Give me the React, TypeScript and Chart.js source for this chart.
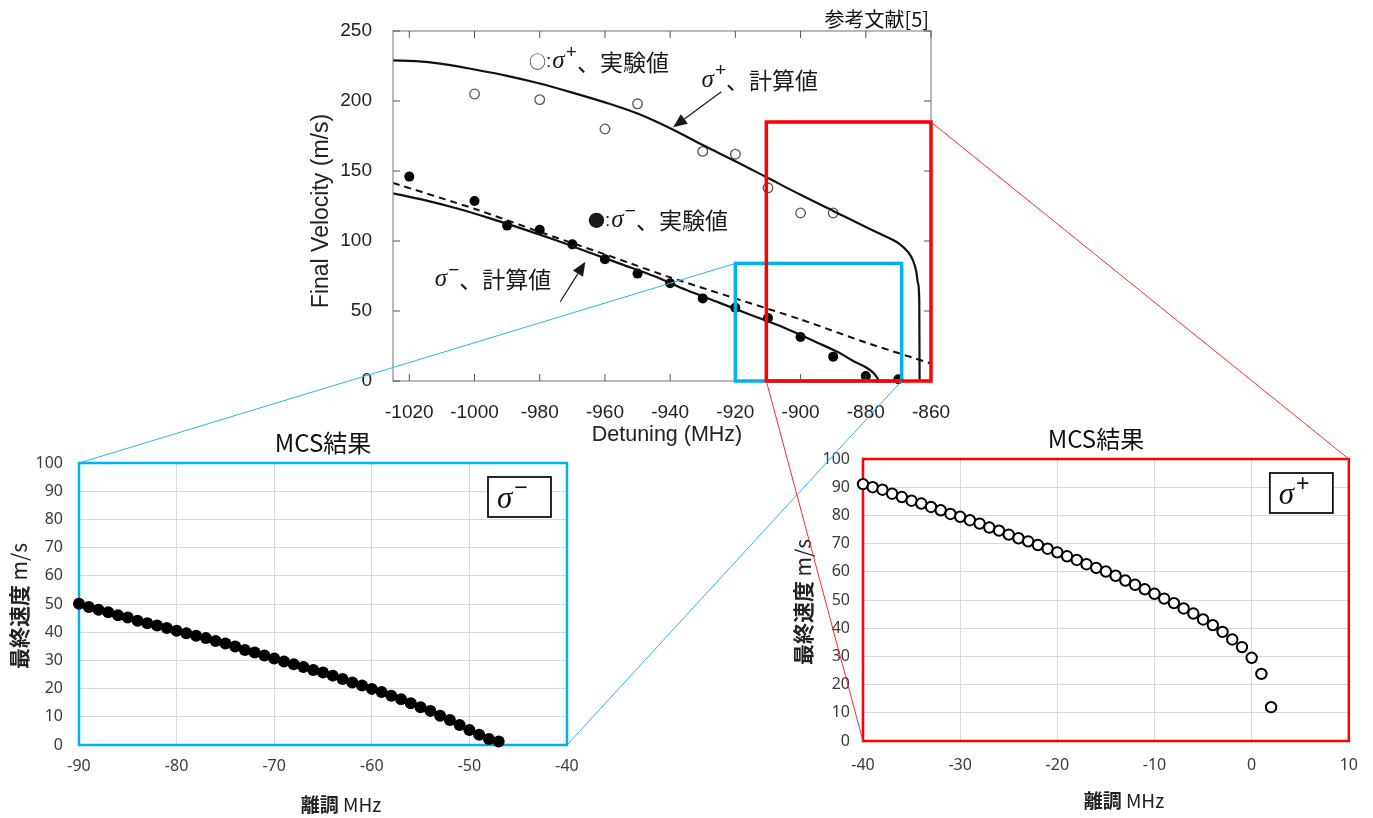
import React, { useEffect, useRef } from 'react';
import { Chart, registerables } from 'chart.js';

Chart.register(...registerables);

const PAGE_W = 1373;
const PAGE_H = 818;

// ---------------- Reference chart (top) ----------------
const refXTicks = [-1020, -1000, -980, -960, -940, -920, -900, -880, -860];
const refYTicks = [0, 50, 100, 150, 200, 250];

const plusCalcDetuning = [-1025, -1018, -1010, -1000, -990, -980, -970, -960, -950, -940, -930, -920, -910, -900, -890, -880, -875, -870, -867, -865.5, -864.5, -864, -863.6, -863.5];
const plusCalcVelocity = [229, 228.5, 226.5, 222.5, 218, 212.5, 206, 199, 191, 180.5, 168.5, 157, 145, 133, 121.5, 110, 104.5, 98.5, 92, 86, 78, 70, 58, 0];

const minusCalcDetuning = [-1025, -1015, -1005, -995, -985, -975, -965, -955, -945, -935, -925, -915, -905, -895, -888, -884, -880, -878, -877, -876.3, -876];
const minusCalcVelocity = [134, 129, 123, 116, 108.5, 100.5, 92, 83.5, 75, 65, 56, 47, 38, 27.5, 20, 14.5, 9.8, 6.5, 4, 1.5, 0];

const minusDashDetuning = [-1025, -1000, -980, -960, -940, -920, -900, -880, -860];
const minusDashVelocity = [141.5, 123, 106.5, 90.5, 74, 59, 44, 27.5, 12.5];

const plusExpDetuning = [-1000, -980, -960, -950, -930, -920, -910, -900, -890];
const plusExpVelocity = [205, 201, 180, 198, 164, 162, 138, 120, 120];

const minusExpDetuning = [-1020, -1000, -990, -980, -970, -960, -950, -940, -930, -920, -910, -900, -890, -880, -870];
const minusExpVelocity = [146, 128.6, 111, 108, 97.6, 87, 76.7, 69.8, 59, 52.4, 45, 31.4, 17.4, 3.6, 1.2];

// zoom windows marked on the reference chart (data units)
const blueZoom = { x0: -920, x1: -869, y0: 0, y1: 84 };
const redZoom = { x0: -910.5, x1: -860, y0: 0, y1: 185 };

// ---------------- MCS results (bottom) ----------------
const mcsYTicks = [0, 10, 20, 30, 40, 50, 60, 70, 80, 90, 100];
const mcsMinusXTicks = [-90, -80, -70, -60, -50, -40];
const mcsPlusXTicks = [-40, -30, -20, -10, 0, 10];

const mcsMinusDetuning = [-90, -89, -88, -87, -86, -85, -84, -83, -82, -81, -80, -79, -78, -77, -76, -75, -74, -73, -72, -71, -70, -69, -68, -67, -66, -65, -64, -63, -62, -61, -60, -59, -58, -57, -56, -55, -54, -53, -52, -51, -50, -49, -48, -47];
const mcsMinusVelocity = [50.1, 48.9, 48.0, 47.1, 46.0, 45.2, 44.1, 43.2, 42.4, 41.5, 40.5, 39.6, 38.7, 37.9, 36.9, 36.0, 34.9, 33.7, 32.8, 31.7, 30.7, 29.6, 28.6, 27.7, 26.6, 25.7, 24.6, 23.4, 22.2, 21.1, 19.9, 18.8, 17.5, 16.2, 14.8, 13.4, 12.1, 10.4, 8.9, 7.1, 5.3, 3.6, 2.1, 1.2];

const mcsPlusDetuning = [-40, -39, -38, -37, -36, -35, -34, -33, -32, -31, -30, -29, -28, -27, -26, -25, -24, -23, -22, -21, -20, -19, -18, -17, -16, -15, -14, -13, -12, -11, -10, -9, -8, -7, -6, -5, -4, -3, -2, -1, 0, 1, 2];
const mcsPlusVelocity = [91.1, 90.0, 89.1, 87.7, 86.5, 85.2, 84.2, 83.0, 81.8, 80.5, 79.5, 78.3, 77.1, 75.7, 74.6, 73.2, 71.9, 70.8, 69.5, 68.2, 66.9, 65.5, 64.2, 62.7, 61.4, 60.1, 58.6, 56.9, 55.4, 53.8, 52.2, 50.5, 48.9, 47.0, 45.2, 43.1, 41.1, 38.7, 36.0, 33.3, 29.5, 23.8, 12.0];

// ---------------- layout ----------------
const TOP = { left: 300, top: 0, w: 670, h: 450, yw: 93, pr: 39, pt: 31, xh: 69 };
const BL = { left: 0, top: 420, w: 600, h: 398, yw: 79, pr: 33, pt: 43, xh: 73 };
const BR = { left: 780, top: 420, w: 593, h: 398, yw: 83, pr: 22, pt: 39, xh: 77 };

const JP = '"Noto Sans CJK JP"';
const SANS = '"Liberation Sans"';
const SERIF = '"Liberation Serif"';
const BLUE = '#00b0f0';
const RED = '#ff0000';

const zip = (xs: number[], ys: number[]) => xs.map((x, i) => ({ x, y: ys[i] }));
const plain = (v: any) => String(v);

type Run = { t: string; f: string; dy?: number };

function drawRuns(ctx: CanvasRenderingContext2D, runs: Run[], x: number, y: number, align: 'left' | 'center' | 'right' = 'left') {
  ctx.save();
  ctx.textBaseline = 'middle';
  ctx.textAlign = 'left';
  let total = 0;
  for (const r of runs) {
    ctx.font = r.f;
    total += ctx.measureText(r.t).width;
  }
  let cx = align === 'center' ? x - total / 2 : align === 'right' ? x - total : x;
  for (const r of runs) {
    ctx.font = r.f;
    ctx.fillText(r.t, cx, y + (r.dy || 0));
    cx += ctx.measureText(r.t).width;
  }
  ctx.restore();
}

function drawRotated(ctx: CanvasRenderingContext2D, runs: Run[], cx: number, cy: number) {
  ctx.save();
  ctx.translate(cx, cy);
  ctx.rotate(-Math.PI / 2);
  drawRuns(ctx, runs, 0, 0, 'center');
  ctx.restore();
}

function drawArrow(ctx: CanvasRenderingContext2D, x1: number, y1: number, x2: number, y2: number, head: number, half: number) {
  const ang = Math.atan2(y2 - y1, x2 - x1);
  const bx = x2 - head * Math.cos(ang);
  const by = y2 - head * Math.sin(ang);
  ctx.beginPath();
  ctx.moveTo(x1, y1);
  ctx.lineTo(bx, by);
  ctx.stroke();
  ctx.beginPath();
  ctx.moveTo(x2, y2);
  ctx.lineTo(bx + half * Math.sin(ang), by - half * Math.cos(ang));
  ctx.lineTo(bx - half * Math.sin(ang), by + half * Math.cos(ang));
  ctx.closePath();
  ctx.fill();
}

const gap = (w: number): Run => ({ t: ' ', f: `${w}px ${SANS}` });

const topDecor = {
  id: 'topDecor',
  afterDatasetsDraw(chart: any) {
    const { ctx, chartArea: a, scales } = chart;
    const X = (v: number) => scales.x.getPixelForValue(v);
    const Y = (v: number) => scales.y.getPixelForValue(v);
    ctx.save();
    // frame
    ctx.strokeStyle = '#8c8c8c';
    ctx.lineWidth = 1.2;
    ctx.strokeRect(a.left, a.top, a.right - a.left, a.bottom - a.top);
    // inner ticks
    ctx.strokeStyle = '#555';
    ctx.lineWidth = 1;
    ctx.beginPath();
    for (const v of refXTicks) {
      const p = X(v);
      ctx.moveTo(p, a.bottom);
      ctx.lineTo(p, a.bottom - 7);
      ctx.moveTo(p, a.top);
      ctx.lineTo(p, a.top + 7);
    }
    for (const v of refYTicks) {
      const p = Y(v);
      ctx.moveTo(a.left, p);
      ctx.lineTo(a.left + 7, p);
      ctx.moveTo(a.right, p);
      ctx.lineTo(a.right - 7, p);
    }
    ctx.stroke();

    // annotations
    ctx.fillStyle = '#1a1a1a';
    ctx.strokeStyle = '#1a1a1a';
    drawRuns(ctx, [
      { t: '○', f: `17px ${JP}` },
      { t: ':', f: `19px ${SANS}` },
      gap(4),
      { t: 'σ', f: `italic 25px ${SERIF}` },
      gap(4),
      { t: '+', f: `19px ${SANS}`, dy: -9 },
      { t: '、実験値', f: `23px ${JP}` },
    ], X(-983.3), Y(228));
    drawRuns(ctx, [
      { t: 'σ', f: `italic 25px ${SERIF}` },
      gap(4),
      { t: '+', f: `19px ${SANS}`, dy: -9 },
      { t: '、計算値', f: `23px ${JP}` },
    ], X(-930.4), Y(215));
    drawRuns(ctx, [
      { t: '●', f: `17px ${JP}` },
      { t: ':', f: `19px ${SANS}` },
      gap(4),
      { t: 'σ', f: `italic 25px ${SERIF}` },
      gap(4),
      { t: '−', f: `19px ${SANS}`, dy: -9 },
      { t: '、実験値', f: `23px ${JP}` },
    ], X(-965.2), Y(114.6));
    drawRuns(ctx, [
      { t: 'σ', f: `italic 25px ${SERIF}` },
      gap(4),
      { t: '−', f: `19px ${SANS}`, dy: -9 },
      { t: '、計算値', f: `23px ${JP}` },
    ], X(-1012.2), Y(72.5));

    ctx.lineWidth = 1.2;
    drawArrow(ctx, X(-924.3), Y(206.6), X(-939.1), Y(181.2), 14, 6);
    drawArrow(ctx, X(-973.7), Y(56.6), X(-966), Y(85.2), 14, 6);

    // zoom windows
    ctx.lineWidth = 3.5;
    ctx.strokeStyle = BLUE;
    ctx.strokeRect(X(blueZoom.x0), Y(blueZoom.y1), X(blueZoom.x1) - X(blueZoom.x0), Y(blueZoom.y0) - Y(blueZoom.y1));
    ctx.strokeStyle = RED;
    ctx.strokeRect(X(redZoom.x0), Y(redZoom.y1), X(redZoom.x1) - X(redZoom.x0), Y(redZoom.y0) - Y(redZoom.y1));

    // titles
    ctx.fillStyle = '#222';
    drawRotated(ctx, [{ t: 'Final Velocity (m/s)', f: `23px ${SANS}` }], a.left - 71, (a.top + a.bottom) / 2 + 5);
    drawRuns(ctx, [{ t: 'Detuning (MHz)', f: `21.5px ${SANS}` }], (a.left + a.right) / 2 + 5, a.bottom + 54, 'center');
    ctx.fillStyle = '#111';
    drawRuns(ctx, [{ t: '参考文献[5]', f: `20px ${JP}` }], a.right - 2, a.top - 12, 'right');
    ctx.restore();
  },
};

function topConfig(): any {
  const line = (xs: number[], ys: number[], extra: any = {}) => ({
    data: zip(xs, ys),
    borderColor: '#111',
    borderWidth: 2.2,
    pointRadius: 0,
    fill: false,
    showLine: true,
    cubicInterpolationMode: 'monotone',
    ...extra,
  });
  return {
    type: 'line',
    data: {
      datasets: [
        line(plusCalcDetuning, plusCalcVelocity),
        line(minusCalcDetuning, minusCalcVelocity),
        line(minusDashDetuning, minusDashVelocity, { borderDash: [7, 5], borderWidth: 2, cubicInterpolationMode: 'default', tension: 0.2 }),
        {
          data: zip(plusExpDetuning, plusExpVelocity),
          showLine: false,
          pointRadius: 4.8,
          pointBorderWidth: 1.3,
          pointBorderColor: '#555',
          pointBackgroundColor: '#fff',
        },
        {
          data: zip(minusExpDetuning, minusExpVelocity),
          showLine: false,
          pointRadius: 5,
          pointBorderWidth: 0,
          pointBorderColor: '#000',
          pointBackgroundColor: '#000',
          clip: false,
        },
      ],
    },
    options: {
      animation: false,
      responsive: false,
      layout: { padding: { left: 0, right: TOP.pr, top: TOP.pt, bottom: 0 } },
      plugins: { legend: { display: false }, tooltip: { enabled: false }, title: { display: false } },
      scales: {
        x: {
          type: 'linear',
          min: -1025,
          max: -860,
          afterBuildTicks: (s: any) => { s.ticks = refXTicks.map((v) => ({ value: v })); },
          afterFit: (s: any) => { s.height = TOP.xh; },
          grid: { display: false },
          border: { display: false },
          ticks: { padding: 12, autoSkip: false, maxRotation: 0, color: '#222', callback: plain, font: { family: 'Liberation Sans', size: 19 } },
        },
        y: {
          type: 'linear',
          min: 0,
          max: 250,
          afterBuildTicks: (s: any) => { s.ticks = refYTicks.map((v) => ({ value: v })); },
          afterFit: (s: any) => { s.width = TOP.yw; },
          grid: { display: false },
          border: { display: false },
          ticks: { padding: 13, color: '#222', callback: plain, font: { family: 'Liberation Sans', size: 19 } },
        },
      },
    },
    plugins: [topDecor],
  };
}

function mcsConfig(opts: {
  detuning: number[];
  velocity: number[];
  xTicks: number[];
  frame: string;
  sign: string;
  filled: boolean;
  lay: typeof BL;
  yPad: number;
  xPad: number;
  titleDx: number;
}): any {
  const deco = {
    id: 'mcsDeco',
    beforeDatasetsDraw(chart: any) {
      const { ctx, chartArea: a } = chart;
      ctx.save();
      ctx.strokeStyle = opts.frame;
      ctx.lineWidth = 2.5;
      ctx.strokeRect(a.left, a.top, a.right - a.left, a.bottom - a.top);
      ctx.restore();
    },
    afterDraw(chart: any) {
      const { ctx, chartArea: a } = chart;
      ctx.save();
      ctx.fillStyle = '#111';
      drawRuns(ctx, [{ t: 'MCS結果', f: `24px ${JP}` }], (a.left + a.right) / 2 + opts.titleDx, a.top - 20, 'center');
      ctx.fillStyle = '#222';
      drawRuns(ctx, [
        { t: '離調', f: `bold 19px ${JP}` },
        { t: ' MHz', f: `19px ${JP}` },
      ], (a.left + a.right) / 2 + 18, a.bottom + 60, 'center');
      drawRotated(ctx, [
        { t: '最終速度', f: `bold 21px ${JP}` },
        { t: ' m/s', f: `21px ${JP}` },
      ], a.left - 60, (a.top + a.bottom) / 2 + 2);
      // legend box
      const bw = 63, bh = 40;
      const bx = a.right - 16 - bw, by = a.top + 14;
      ctx.fillStyle = '#fff';
      ctx.fillRect(bx, by, bw, bh);
      ctx.strokeStyle = '#111';
      ctx.lineWidth = 1.8;
      ctx.strokeRect(bx, by, bw, bh);
      ctx.fillStyle = '#111';
      drawRuns(ctx, [
        { t: 'σ', f: `italic 31px ${SERIF}` },
        { t: ' ', f: `7px ${SANS}` },
        { t: opts.sign, f: `23px ${SANS}`, dy: -11 },
      ], bx + 9, by + bh / 2 + 3);
      ctx.restore();
    },
  };
  return {
    type: 'line',
    data: {
      datasets: [
        {
          data: zip(opts.detuning, opts.velocity),
          showLine: false,
          pointRadius: opts.filled ? 6 : 5.2,
          pointBorderWidth: opts.filled ? 0 : 2,
          pointBorderColor: '#000',
          pointBackgroundColor: opts.filled ? '#000' : '#fff',
          clip: false,
        },
      ],
    },
    options: {
      animation: false,
      responsive: false,
      layout: { padding: { left: 0, right: opts.lay.pr, top: opts.lay.pt, bottom: 0 } },
      plugins: { legend: { display: false }, tooltip: { enabled: false }, title: { display: false } },
      scales: {
        x: {
          type: 'linear',
          min: opts.xTicks[0],
          max: opts.xTicks[opts.xTicks.length - 1],
          afterBuildTicks: (s: any) => { s.ticks = opts.xTicks.map((v) => ({ value: v })); },
          afterFit: (s: any) => { s.height = opts.lay.xh; },
          grid: { color: '#d9d9d9', lineWidth: 1, drawTicks: false },
          border: { display: false },
          ticks: { padding: opts.xPad, autoSkip: false, maxRotation: 0, color: '#3a3a3a', callback: plain, font: { family: 'Noto Sans', size: 16 } },
        },
        y: {
          type: 'linear',
          min: 0,
          max: 100,
          afterBuildTicks: (s: any) => { s.ticks = mcsYTicks.map((v) => ({ value: v })); },
          afterFit: (s: any) => { s.width = opts.lay.yw; },
          grid: { color: '#d9d9d9', lineWidth: 1, drawTicks: false },
          border: { display: false },
          ticks: { padding: opts.yPad, color: '#3a3a3a', callback: plain, font: { family: 'Noto Sans', size: 16 } },
        },
      },
    },
    plugins: [deco],
  };
}

export default function App() {
  const topRef = useRef<HTMLCanvasElement>(null);
  const blRef = useRef<HTMLCanvasElement>(null);
  const brRef = useRef<HTMLCanvasElement>(null);
  const ovRef = useRef<HTMLCanvasElement>(null);

  useEffect(() => {
    const top = new Chart(topRef.current as HTMLCanvasElement, topConfig());
    const bl = new Chart(blRef.current as HTMLCanvasElement, mcsConfig({
      detuning: mcsMinusDetuning, velocity: mcsMinusVelocity, xTicks: mcsMinusXTicks,
      frame: BLUE, sign: '−', filled: true, lay: BL, yPad: 16, xPad: 12, titleDx: 0,
    }));
    const br = new Chart(brRef.current as HTMLCanvasElement, mcsConfig({
      detuning: mcsPlusDetuning, velocity: mcsPlusVelocity, xTicks: mcsPlusXTicks,
      frame: RED, sign: '+', filled: false, lay: BR, yPad: 13, xPad: 15, titleDx: -10,
    }));

    // connecting lines, derived from the charts' own scales / areas
    const ov = ovRef.current as HTMLCanvasElement;
    const octx = ov.getContext('2d') as CanvasRenderingContext2D;
    octx.clearRect(0, 0, PAGE_W, PAGE_H);
    const tp = (x: number, y: number) => [TOP.left + (top.scales as any).x.getPixelForValue(x), TOP.top + (top.scales as any).y.getPixelForValue(y)];
    const seg = (p: number[], q: number[]) => {
      octx.beginPath();
      octx.moveTo(p[0], p[1]);
      octx.lineTo(q[0], q[1]);
      octx.stroke();
    };
    const la = bl.chartArea;
    const ra = br.chartArea;
    octx.lineWidth = 1;
    octx.strokeStyle = '#2fb4ec';
    seg(tp(blueZoom.x0, blueZoom.y1), [BL.left + la.left, BL.top + la.top]);
    seg(tp(blueZoom.x1, blueZoom.y0), [BL.left + la.right, BL.top + la.bottom]);
    octx.strokeStyle = '#ff2a2a';
    seg(tp(redZoom.x1, redZoom.y1), [BR.left + ra.right, BR.top + ra.top]);
    seg(tp(redZoom.x0, redZoom.y0), [BR.left + ra.left, BR.top + ra.bottom]);

    return () => {
      top.destroy();
      bl.destroy();
      br.destroy();
    };
  }, []);

  const cv = (L: { left: number; top: number; w: number; h: number }) => ({
    position: 'absolute' as const,
    left: L.left,
    top: L.top,
    width: L.w,
    height: L.h,
  });

  return (
    <div style={{ position: 'absolute', left: 0, top: 0, width: PAGE_W, height: PAGE_H, background: '#fff', overflow: 'hidden' }}>
      <canvas ref={topRef} width={TOP.w} height={TOP.h} style={cv(TOP)} />
      <canvas ref={blRef} width={BL.w} height={BL.h} style={cv(BL)} />
      <canvas ref={brRef} width={BR.w} height={BR.h} style={cv(BR)} />
      <canvas ref={ovRef} width={PAGE_W} height={PAGE_H} style={{ position: 'absolute', left: 0, top: 0, width: PAGE_W, height: PAGE_H, pointerEvents: 'none' }} />
    </div>
  );
}
